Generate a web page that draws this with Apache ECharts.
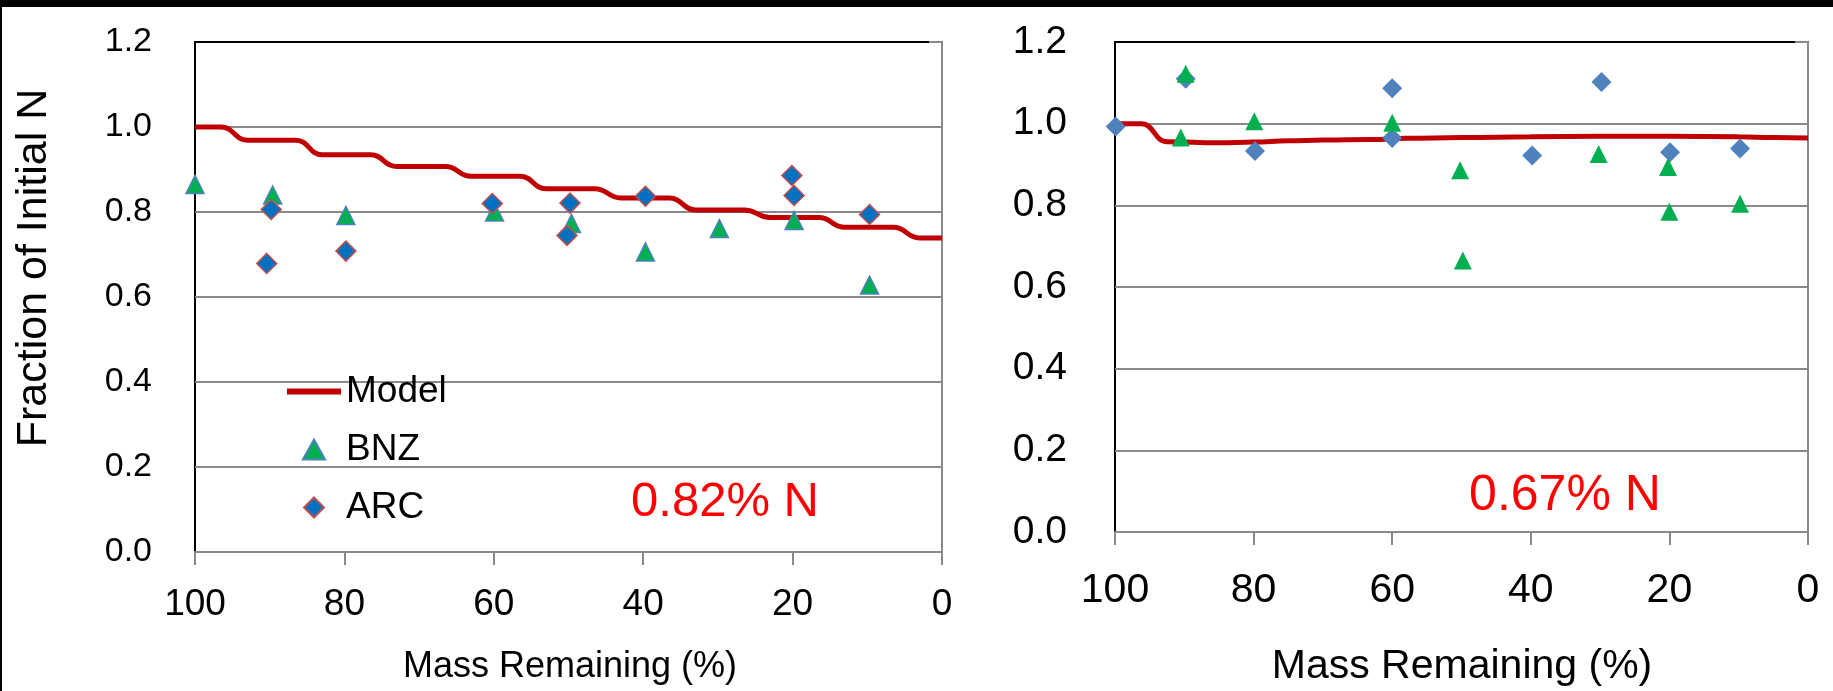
<!DOCTYPE html>
<html>
<head>
<meta charset="utf-8">
<script src="https://cdn.jsdelivr.net/npm/echarts@6/dist/echarts.min.js"></script>
<style>
  html, body { margin: 0; padding: 0; background: #fff; }
  #chart { width: 1833px; height: 691px; }
</style>
</head>
<body>
<div id="chart"></div>
<script>
// values: [mass remaining %, fraction of initial N]
const modelLeft = [[100, 1.0], [96.5, 1.0], [93, 0.969], [86.5, 0.969], [83, 0.935], [76.5, 0.935],
  [73, 0.907], [66.5, 0.907], [63, 0.884], [56.5, 0.884], [53, 0.855], [46.5, 0.855],
  [43, 0.833], [36.5, 0.833], [33, 0.805], [26.5, 0.805], [23, 0.787], [16.5, 0.787],
  [13, 0.764], [6.5, 0.764], [3, 0.739], [0, 0.739]];
const bnzLeft = [[100, 0.865], [89.6, 0.84], [79.8, 0.792], [59.9, 0.80], [49.6, 0.773],
  [39.7, 0.706], [29.8, 0.761], [19.8, 0.78], [9.7, 0.628]];
const arcLeft = [[89.8, 0.806], [90.4, 0.679], [79.8, 0.708], [60.2, 0.82], [49.8, 0.821],
  [50.2, 0.745], [39.7, 0.837], [20.1, 0.886], [19.8, 0.839], [9.7, 0.794]];

const modelRight = [[100, 1.0], [96.2, 1.0], [92.5, 0.956], [85, 0.953], [80, 0.955], [75, 0.958],
  [70, 0.960], [63, 0.961], [58, 0.964], [50, 0.966], [40, 0.968], [30, 0.969], [20, 0.969],
  [10, 0.968], [5, 0.966], [0, 0.965]];
const bnzRight = [[89.8, 1.122], [90.5, 0.966], [79.9, 1.006], [60, 1.002], [50.2, 0.886],
  [49.8, 0.665], [30.2, 0.926], [20.2, 0.894], [20, 0.784], [9.8, 0.804]];
const arcRight = [[99.9, 0.993], [89.8, 1.110], [79.8, 0.933], [60, 1.087], [60, 0.965],
  [39.8, 0.922], [29.8, 1.102], [19.9, 0.930], [9.8, 0.939]];

const legendNames = ['Model', 'BNZ', 'ARC'];
const notes = ['0.82% N', '0.67% N'];
const xTitle = 'Mass Remaining (%)';
const yTitle = 'Fraction of Initial N';

const FONT = 'Liberation Sans';
const GRAY = '#8a8a8a';
// legend icons (kept in aspect inside the legend box)
const ICON_LINE = 'path://M0,0H54V6H0Z';
const ICON_TRI = 'path://M10,0L20,18H0Z';
const ICON_DIA = 'path://M10,0L20,10L10,20L0,10Z';

function xAxisFor(gridIndex, fontSize, margin) {
  return {
    gridIndex: gridIndex, type: 'value', min: 0, max: 100, interval: 20, inverse: true,
    axisLine: { show: true, onZero: false, lineStyle: { color: GRAY, width: 2 } },
    axisTick: { show: true, length: 13, lineStyle: { color: GRAY, width: 2 } },
    axisLabel: { fontFamily: FONT, fontSize: fontSize, color: '#000', margin: margin },
    splitLine: { show: false }
  };
}
function yAxisFor(gridIndex, fontSize, margin) {
  return {
    gridIndex: gridIndex, type: 'value', min: 0, max: 1.2, interval: 0.2,
    axisLine: { show: true, lineStyle: { color: GRAY, width: 2 } },
    axisTick: { show: true, length: 13, lineStyle: { color: GRAY, width: 2 } },
    axisLabel: { fontFamily: FONT, fontSize: fontSize, color: '#000', margin: margin,
      formatter: v => v.toFixed(1) },
    splitLine: { show: true, showMinLine: false, showMaxLine: false,
      lineStyle: { color: GRAY, width: 2 } }
  };
}

const chart = echarts.init(document.getElementById('chart'));
chart.setOption({
  animation: false,
  backgroundColor: '#fff',
  grid: [
    { left: 195, top: 42, right: 891, bottom: 139, show: true, borderColor: '#000', borderWidth: 2, backgroundColor: 'transparent' },
    { left: 1115, top: 42, right: 25, bottom: 159, show: true, borderColor: '#000', borderWidth: 2, backgroundColor: 'transparent' }
  ],
  xAxis: [xAxisFor(0, 37, 34), xAxisFor(1, 41, 38)],
  yAxis: [yAxisFor(0, 34, 43), yAxisFor(1, 39, 48)],
  legend: {
    data: [
      { name: legendNames[0], icon: ICON_LINE },
      { name: legendNames[1], icon: ICON_TRI },
      { name: legendNames[2], icon: ICON_DIA }
    ],
    orient: 'vertical', left: 282, top: 368,
    itemWidth: 54, itemHeight: 20, itemGap: 21, selectedMode: false, symbolKeepAspect: true,
    textStyle: { fontFamily: FONT, fontSize: 37, color: '#000' }
  },
  series: [
    { name: 'Model', type: 'line', xAxisIndex: 0, yAxisIndex: 0, data: modelLeft, symbol: 'none',
      smooth: 0.5, smoothMonotone: 'x', lineStyle: { color: '#c00000', width: 5 }, itemStyle: { color: '#c00000' }, z: 2 },
    { name: 'BNZ', type: 'scatter', xAxisIndex: 0, yAxisIndex: 0, data: bnzLeft, symbol: 'triangle', symbolSize: 18,
      itemStyle: { color: '#00b050', borderColor: '#4f81bd', borderWidth: 1.5, opacity: 1 }, z: 3 },
    { name: 'ARC', type: 'scatter', xAxisIndex: 0, yAxisIndex: 0, data: arcLeft, symbol: 'diamond', symbolSize: 20,
      itemStyle: { color: '#0070c0', borderColor: '#c0504d', borderWidth: 1.5, opacity: 1 }, z: 4 },

    { name: 'Model', type: 'line', xAxisIndex: 1, yAxisIndex: 1, data: modelRight, symbol: 'none',
      smooth: 0.5, smoothMonotone: 'x', lineStyle: { color: '#c00000', width: 5 }, itemStyle: { color: '#c00000' }, z: 2 },
    { name: 'ARC', type: 'scatter', xAxisIndex: 1, yAxisIndex: 1, data: arcRight, symbol: 'diamond', symbolSize: 20,
      itemStyle: { color: '#4f81bd', opacity: 1 }, z: 3 },
    { name: 'BNZ', type: 'scatter', xAxisIndex: 1, yAxisIndex: 1, data: bnzRight, symbol: 'triangle', symbolSize: 18,
      itemStyle: { color: '#00b050', opacity: 1 }, z: 4 }
  ],
  graphic: [
    // black frame edges of the slide
    { type: 'rect', shape: { x: 0, y: 0, width: 1833, height: 7 }, style: { fill: '#000' } },
    { type: 'rect', shape: { x: 0, y: 0, width: 2, height: 691 }, style: { fill: '#000' } },
    { type: 'text', x: 34, y: 268, rotation: Math.PI / 2,
      style: { text: yTitle, fontFamily: FONT, fontSize: 43, fill: '#000', align: 'center', verticalAlign: 'middle' } },
    { type: 'text', x: 570, y: 667,
      style: { text: xTitle, fontFamily: FONT, fontSize: 36, fill: '#000', align: 'center', verticalAlign: 'middle' } },
    { type: 'text', x: 1462, y: 667,
      style: { text: xTitle, fontFamily: FONT, fontSize: 41, fill: '#000', align: 'center', verticalAlign: 'middle' } },
    { type: 'text', x: 725, y: 502,
      style: { text: notes[0], fontFamily: FONT, fontSize: 49, fill: '#ff0000', align: 'center', verticalAlign: 'middle' } },
    { type: 'text', x: 1565, y: 496,
      style: { text: notes[1], fontFamily: FONT, fontSize: 50, fill: '#ff0000', align: 'center', verticalAlign: 'middle' } }
  ]
});
</script>
</body>
</html>
